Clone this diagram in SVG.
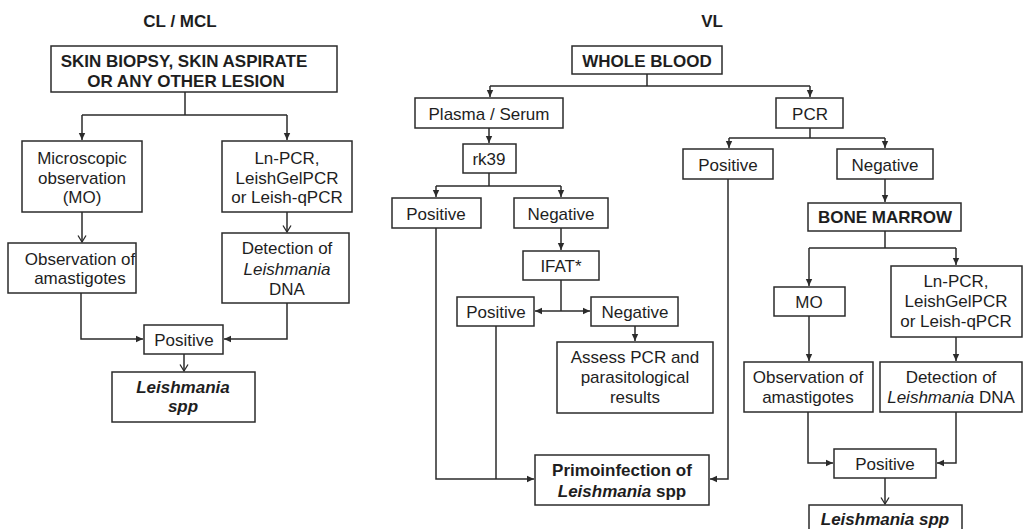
<svg xmlns="http://www.w3.org/2000/svg" width="1023" height="529" viewBox="0 0 1023 529">
<style>
.b{fill:#fff;stroke:#2b2b2b;stroke-width:1.5}
.t{font-family:"Liberation Sans",Arial,sans-serif;font-size:17px;fill:#1e1e1e;text-anchor:middle}
.bd{font-weight:bold}
.it{font-style:italic}
.c{fill:none;stroke:#2b2b2b;stroke-width:1.5}
</style>
<defs>
<marker id="a" markerUnits="userSpaceOnUse" markerWidth="8" markerHeight="8" refX="7" refY="4" orient="auto"><path d="M0,0.8 L7,4 L0,7.2 z" fill="#2b2b2b"/></marker>
<marker id="o" markerUnits="userSpaceOnUse" markerWidth="10" markerHeight="10" refX="7" refY="5" orient="auto"><path d="M0.5,1 L7,5 L0.5,9" fill="none" stroke="#2b2b2b" stroke-width="1.3"/></marker>
</defs>
<text class="t bd" x="180" y="27" font-size="16">CL / MCL</text>
<text class="t bd" x="712" y="27" font-size="16">VL</text>
<g id="connectors">
<path class="c" d="M185,92 V115 M82,115 H287"/>
<path class="c" d="M82,115 V140" marker-end="url(#a)"/>
<path class="c" d="M287,115 V140" marker-end="url(#a)"/>
<path class="c" d="M82,212 V242" marker-end="url(#o)"/>
<path class="c" d="M287,212 V232" marker-end="url(#o)"/>
<path class="c" d="M81,293 V339 H143" marker-end="url(#a)"/>
<path class="c" d="M287,303 V339 H224" marker-end="url(#a)"/>
<path class="c" d="M184,354 V371" marker-end="url(#o)"/>
<path class="c" d="M647,74 V86 M490,86 H810"/>
<path class="c" d="M490,86 V97" marker-end="url(#a)"/>
<path class="c" d="M810,86 V97" marker-end="url(#a)"/>
<path class="c" d="M489,128 V143" marker-end="url(#a)"/>
<path class="c" d="M489,173 V186 M436,186 H561"/>
<path class="c" d="M436,186 V197" marker-end="url(#a)"/>
<path class="c" d="M561,186 V197" marker-end="url(#a)"/>
<path class="c" d="M561,228 V250" marker-end="url(#a)"/>
<path class="c" d="M561,280 V311"/>
<path class="c" d="M561,311 H535" marker-end="url(#a)"/>
<path class="c" d="M561,311 H590" marker-end="url(#a)"/>
<path class="c" d="M635,326 V341" marker-end="url(#a)"/>
<path class="c" d="M436,228 V479 H534" marker-end="url(#a)"/>
<path class="c" d="M496,326 V479"/>
<path class="c" d="M728,179 V479 H710" marker-end="url(#a)"/>
<path class="c" d="M810,128 V138 M729,138 H885"/>
<path class="c" d="M729,138 V148" marker-end="url(#a)"/>
<path class="c" d="M885,138 V148" marker-end="url(#a)"/>
<path class="c" d="M885,179 V202" marker-end="url(#a)"/>
<path class="c" d="M885,231 V248 M809,248 H956"/>
<path class="c" d="M809,248 V286" marker-end="url(#a)"/>
<path class="c" d="M956,248 V265" marker-end="url(#a)"/>
<path class="c" d="M809,316 V361" marker-end="url(#a)"/>
<path class="c" d="M956,337 V361" marker-end="url(#a)"/>
<path class="c" d="M808,412 V463 H833" marker-end="url(#a)"/>
<path class="c" d="M956,412 V463 H937" marker-end="url(#a)"/>
<path class="c" d="M885,478 V504" marker-end="url(#o)"/>
</g>
<g id="skin"><rect class="b" x="51" y="46" width="286" height="46"/><text class="t bd" x="184" y="67">SKIN BIOPSY, SKIN ASPIRATE</text><text class="t bd" x="186" y="87">OR ANY OTHER LESION</text></g>
<g id="mo"><rect class="b" x="22" y="141" width="120" height="71"/><text class="t" x="82" y="164">Microscopic</text><text class="t" x="82" y="184">observation</text><text class="t" x="82" y="203">(MO)</text></g>
<g id="lnpcr"><rect class="b" x="222" y="141" width="130" height="71"/><text class="t" x="287" y="164">Ln-PCR,</text><text class="t" x="287" y="184">LeishGelPCR</text><text class="t" x="287" y="203">or Leish-qPCR</text></g>
<g id="obs"><rect class="b" x="8" y="243" width="128" height="50"/><text class="t" x="80" y="265">Observation of</text><text class="t" x="80" y="284">amastigotes</text></g>
<g id="det"><rect class="b" x="222" y="233" width="127" height="70"/><text class="t" x="287" y="254">Detection of</text><text class="t it" x="287" y="275">Leishmania</text><text class="t" x="287" y="295">DNA</text></g>
<g id="pos-l"><rect class="b" x="144" y="325" width="79" height="29"/><text class="t" x="184" y="346">Positive</text></g>
<g id="leish-l"><rect class="b" x="112" y="372" width="143" height="50"/><text class="t bd it" x="183" y="393">Leishmania</text><text class="t bd it" x="183" y="412">spp</text></g>
<g id="blood"><rect class="b" x="572" y="46" width="150" height="28"/><text class="t bd" x="647" y="67">WHOLE BLOOD</text></g>
<g id="plasma"><rect class="b" x="415" y="98" width="148" height="30"/><text class="t" x="489" y="120">Plasma / Serum</text></g>
<g id="pcr"><rect class="b" x="776" y="98" width="67" height="30"/><text class="t" x="810" y="120">PCR</text></g>
<g id="rk39"><rect class="b" x="463" y="144" width="53" height="29"/><text class="t" x="489" y="165">rk39</text></g>
<g id="rk-pos"><rect class="b" x="392" y="198" width="89" height="30"/><text class="t" x="436" y="220">Positive</text></g>
<g id="rk-neg"><rect class="b" x="514" y="198" width="94" height="30"/><text class="t" x="561" y="220">Negative</text></g>
<g id="ifat"><rect class="b" x="523" y="251" width="76" height="29"/><text class="t" x="561" y="272">IFAT*</text></g>
<g id="if-pos"><rect class="b" x="457" y="297" width="77" height="29"/><text class="t" x="496" y="318">Positive</text></g>
<g id="if-neg"><rect class="b" x="591" y="297" width="87" height="29"/><text class="t" x="635" y="318">Negative</text></g>
<g id="assess"><rect class="b" x="557" y="342" width="156" height="71"/><text class="t" x="635" y="363">Assess PCR and</text><text class="t" x="635" y="383">parasitological</text><text class="t" x="635" y="403">results</text></g>
<g id="primo"><rect class="b" x="535" y="455" width="174" height="50"/><text class="t bd" x="622" y="476">Primoinfection of</text><text class="t bd" x="622" y="497"><tspan class="it">Leishmania</tspan> spp</text></g>
<g id="pcr-pos"><rect class="b" x="683" y="149" width="90" height="30"/><text class="t" x="728" y="171">Positive</text></g>
<g id="pcr-neg"><rect class="b" x="837" y="149" width="96" height="30"/><text class="t" x="885" y="171">Negative</text></g>
<g id="bm"><rect class="b" x="808" y="203" width="153" height="28"/><text class="t bd" x="885" y="223">BONE MARROW</text></g>
<g id="mo2"><rect class="b" x="774" y="287" width="71" height="29"/><text class="t" x="809" y="308">MO</text></g>
<g id="lnpcr2"><rect class="b" x="891" y="266" width="131" height="71"/><text class="t" x="956" y="287">Ln-PCR,</text><text class="t" x="956" y="307">LeishGelPCR</text><text class="t" x="956" y="327">or Leish-qPCR</text></g>
<g id="obs2"><rect class="b" x="744" y="362" width="129" height="50"/><text class="t" x="808" y="383">Observation of</text><text class="t" x="808" y="403">amastigotes</text></g>
<g id="det2"><rect class="b" x="880" y="362" width="142" height="50"/><text class="t" x="951" y="383">Detection of</text><text class="t" x="951" y="403"><tspan class="it">Leishmania</tspan> DNA</text></g>
<g id="pos3"><rect class="b" x="834" y="449" width="102" height="29"/><text class="t" x="885" y="470">Positive</text></g>
<g id="leish-r"><rect class="b" x="809" y="505" width="153" height="40"/><text class="t bd it" x="885" y="525">Leishmania spp</text></g>
</svg>
